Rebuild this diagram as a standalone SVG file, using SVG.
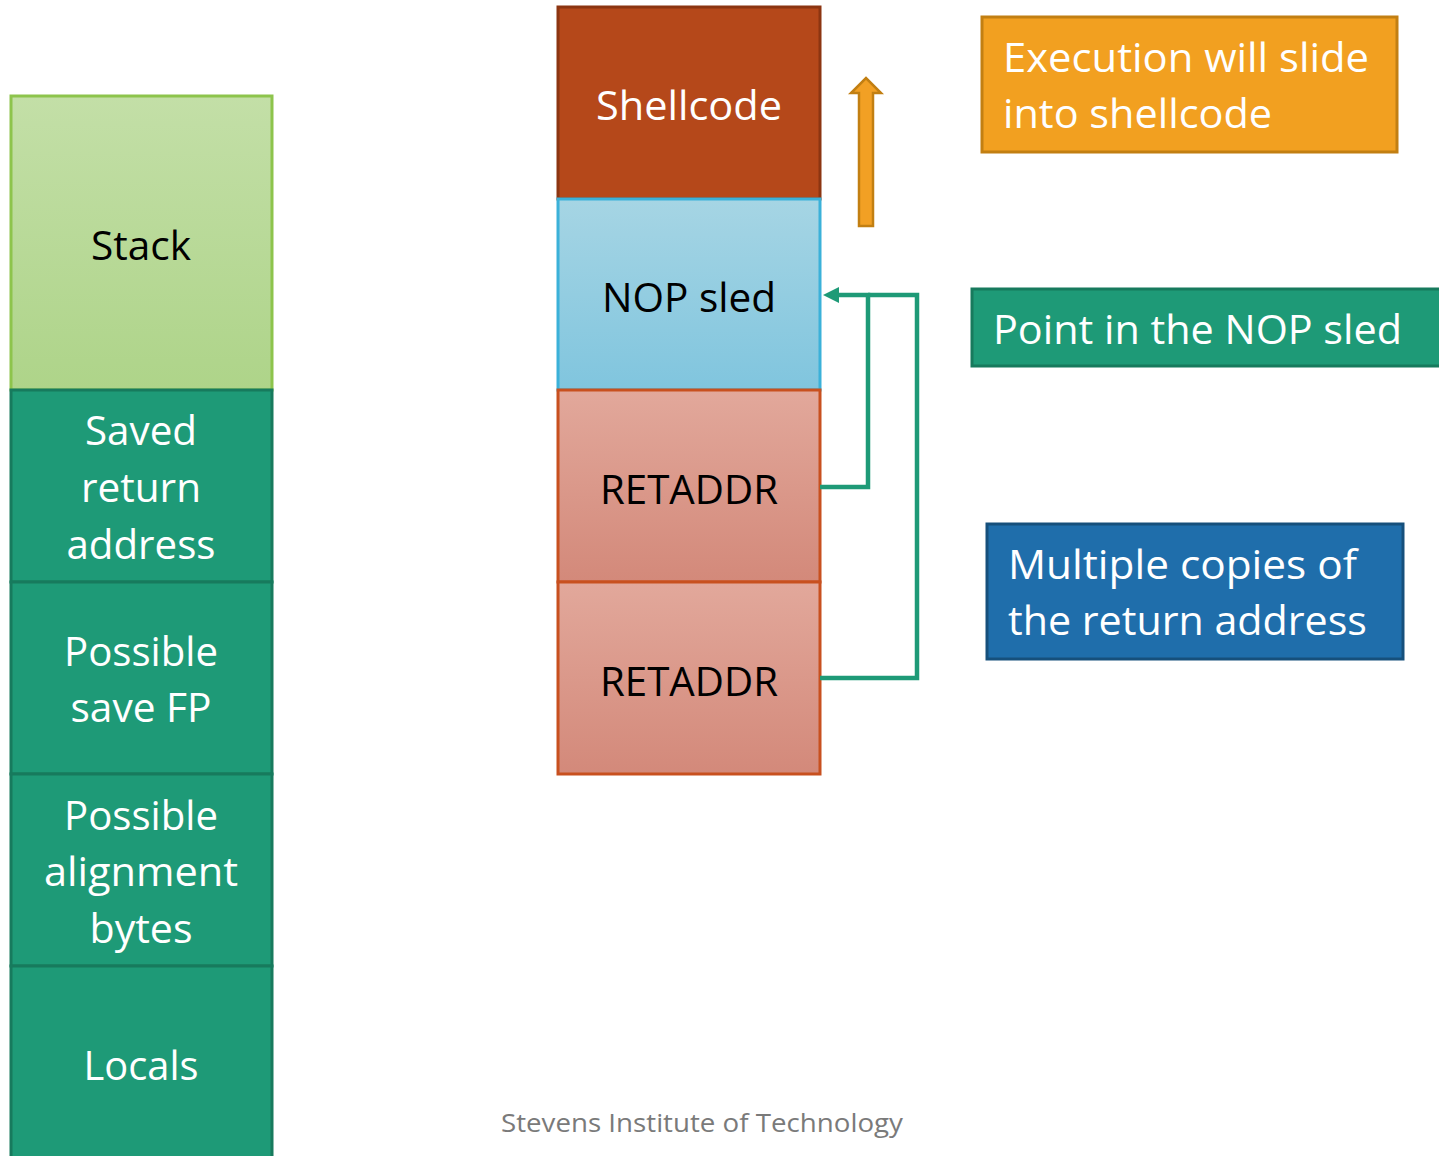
<svg xmlns="http://www.w3.org/2000/svg" width="1439" height="1156" viewBox="0 0 1439 1156">
<defs>
<linearGradient id="gStack" x1="0" y1="0" x2="0" y2="1"><stop offset="0" stop-color="#c3dfa7"/><stop offset="1" stop-color="#aed489"/></linearGradient>
<linearGradient id="gNop" x1="0" y1="0" x2="0" y2="1"><stop offset="0" stop-color="#a6d5e4"/><stop offset="1" stop-color="#80c5de"/></linearGradient>
<linearGradient id="gRet" x1="0" y1="0" x2="0" y2="1"><stop offset="0" stop-color="#e2a89b"/><stop offset="1" stop-color="#d3897a"/></linearGradient>
<marker id="ah" markerWidth="6" markerHeight="6" refX="5" refY="3" orient="auto" markerUnits="strokeWidth"><path d="M0,0 L5,3 L0,6 z" fill="#1e9a77"/></marker>
</defs>
<style>
text{font-family:"Open Sans","Liberation Sans",sans-serif;font-size:40px;text-anchor:middle}
.w{fill:#ffffff}.k{fill:#000000}
.teal{fill:#1e9a77;stroke:#177a5d;stroke-width:3}
.conn{fill:none;stroke:#1e9a77;stroke-width:4.5}
.lt{text-anchor:start}
</style>
<rect width="1439" height="1156" fill="#ffffff"/>

<g id="stack">
<rect x="11" y="96" width="261" height="294" fill="url(#gStack)" stroke="#8dc44c" stroke-width="3"/>
<text class="k" x="141" y="260" textLength="100" lengthAdjust="spacingAndGlyphs">Stack</text>
</g>
<g id="saved-return">
<rect class="teal" x="11" y="390" width="261" height="192"/>
<text class="w" x="141" y="445" textLength="112" lengthAdjust="spacingAndGlyphs">Saved</text>
<text class="w" x="141" y="502" textLength="120" lengthAdjust="spacingAndGlyphs">return</text>
<text class="w" x="141" y="559" textLength="149" lengthAdjust="spacingAndGlyphs">address</text>
</g>
<g id="save-fp">
<rect class="teal" x="11" y="582" width="261" height="192"/>
<text class="w" x="141" y="666" textLength="154" lengthAdjust="spacingAndGlyphs">Possible</text>
<text class="w" x="141" y="722" textLength="141" lengthAdjust="spacingAndGlyphs">save FP</text>
</g>
<g id="alignment">
<rect class="teal" x="11" y="774" width="261" height="192"/>
<text class="w" x="141" y="830" textLength="154" lengthAdjust="spacingAndGlyphs">Possible</text>
<text class="w" x="141" y="886" textLength="194" lengthAdjust="spacingAndGlyphs">alignment</text>
<text class="w" x="141" y="943" textLength="103" lengthAdjust="spacingAndGlyphs">bytes</text>
</g>
<g id="locals">
<rect class="teal" x="11" y="966" width="261" height="196"/>
<text class="w" x="141" y="1080" textLength="115" lengthAdjust="spacingAndGlyphs">Locals</text>
</g>

<g id="shellcode">
<rect x="558" y="7" width="262" height="192" fill="#b5481a" stroke="#8c3511" stroke-width="3"/>
<text class="w" x="689" y="120" textLength="186" lengthAdjust="spacingAndGlyphs">Shellcode</text>
</g>
<g id="nop-sled">
<rect x="558" y="199" width="262" height="191" fill="url(#gNop)" stroke="#3bb1d9" stroke-width="3"/>
<text class="k" x="689" y="312" textLength="174" lengthAdjust="spacingAndGlyphs">NOP sled</text>
</g>
<g id="retaddr1">
<rect x="558" y="390" width="262" height="192" fill="url(#gRet)" stroke="#c8501f" stroke-width="3"/>
<text class="k" x="689" y="504" textLength="178" lengthAdjust="spacingAndGlyphs">RETADDR</text>
</g>
<g id="retaddr2">
<rect x="558" y="582" width="262" height="192" fill="url(#gRet)" stroke="#c8501f" stroke-width="3"/>
<text class="k" x="689" y="696" textLength="178" lengthAdjust="spacingAndGlyphs">RETADDR</text>
</g>

<g id="up-arrow">
<path d="M859,226 L859,93 L851,93 L866,78 L881,93 L873,93 L873,226 Z" fill="#f2a024" stroke="#c27f12" stroke-width="2.5" stroke-linejoin="miter"/>
</g>

<g id="execution-note">
<rect x="982" y="17" width="415" height="135" fill="#f2a020" stroke="#c27f12" stroke-width="3"/>
<text class="w lt" x="1003" y="72" textLength="366" lengthAdjust="spacingAndGlyphs">Execution will slide</text>
<text class="w lt" x="1003" y="128" textLength="269" lengthAdjust="spacingAndGlyphs">into shellcode</text>
</g>
<g id="point-note">
<rect x="972" y="289" width="470" height="77" fill="#1e9a77" stroke="#177a5d" stroke-width="3"/>
<text class="w lt" x="993" y="344" textLength="409" lengthAdjust="spacingAndGlyphs">Point in the NOP sled</text>
</g>
<g id="copies-note">
<rect x="987" y="524" width="416" height="135" fill="#1f6eab" stroke="#16507c" stroke-width="3"/>
<text class="w lt" x="1008" y="579" textLength="349" lengthAdjust="spacingAndGlyphs">Multiple copies of</text>
<text class="w lt" x="1008" y="635" textLength="359" lengthAdjust="spacingAndGlyphs">the return address</text>
</g>

<g id="connectors">
<path class="conn" d="M820,487 L868,487 L868,295 L836,295"/>
<path class="conn" d="M820,678 L917,678 L917,295 L868,295"/>
<path d="M823,295 L839,287 L839,303 Z" fill="#1e9a77"/>
</g>

<g id="footer">
<text x="702" y="1132" style="font-size:25px;fill:#7a7a7a" textLength="402" lengthAdjust="spacingAndGlyphs">Stevens Institute of Technology</text>
</g>
</svg>
